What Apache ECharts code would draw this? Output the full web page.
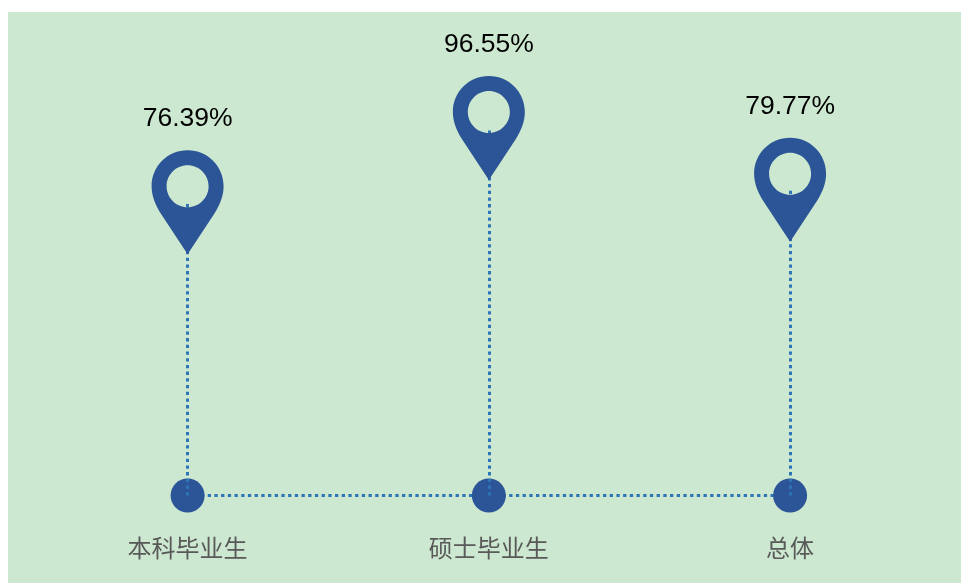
<!DOCTYPE html>
<html>
<head>
<meta charset="utf-8">
<title>毕业生</title>
<style>
html,body{margin:0;padding:0;background:#fff;}
#main{position:absolute;left:8px;top:12px;width:953px;height:571px;background:#cde8d0;}
</style>
<script src="https://cdn.jsdelivr.net/npm/echarts@6/dist/echarts.min.js"></script>
</head>
<body>
<div id="main"></div>
<script>
var categories=['本科毕业生','硕士毕业生','总体'];
var rates=[76.39,96.55,79.77];
var baseline=[-3.5,-3.5,-3.5];

// 定位图标，中间的圆孔反向绘制
var pinPath='path://M36 0C56 0 72 16 72 36C72 46 68 55 63 63L36 104L9 63C4 55 0 46 0 36C0 16 16 0 36 0Z'+
    'M36 15C24.4 15 15 24.4 15 36C15 47.6 24.4 57 36 57C47.6 57 57 47.6 57 36C57 24.4 47.6 15 36 15Z';

var dotStyle={color:'#2e75b6',width:3,type:[3.3,3.4]};

var dropLines=[];
for(var i=0;i<categories.length;i++){
    dropLines.push([{coord:[categories[i],baseline[i]]},{coord:[categories[i],rates[i]]}]);
}

var myChart=echarts.init(document.getElementById('main'));
var option={
    animation:false,
    grid:{left:179.6,right:170.9,top:30,bottom:87.5},
    xAxis:{
        type:'category',
        boundaryGap:false,
        data:categories,
        axisTick:{show:false},
        axisLine:{show:false},
        axisLabel:{color:'#595959',fontSize:24,margin:40,fontFamily:'Noto Sans CJK SC'}
    },
    yAxis:{
        type:'value',
        min:-3.5,
        max:120,
        show:false
    },
    series:[
        {
            // 底部圆点和竖向虚线
            type:'line',
            data:baseline,
            symbol:'circle',
            symbolSize:34,
            lineStyle:dotStyle,
            itemStyle:{color:'#2b5597'},
            z:2,
            markLine:{
                silent:true,
                symbol:'none',
                label:{show:false},
                lineStyle:dotStyle,
                data:dropLines,
                z:3
            }
        },
        {
            type:'line',
            data:rates,
            symbol:pinPath,
            symbolSize:[72,104],
            showAllSymbol:true,
            lineStyle:{opacity:0},
            itemStyle:{color:'#2b5597',opacity:1},
            z:5,
            label:{
                show:true,
                position:'top',
                distance:18,
                color:'#000',
                fontSize:26.5,
                fontFamily:'Liberation Sans',
                formatter:function(p){return p.value+'%';}
            }
        }
    ]
};
myChart.setOption(option);
</script>
</body>
</html>
